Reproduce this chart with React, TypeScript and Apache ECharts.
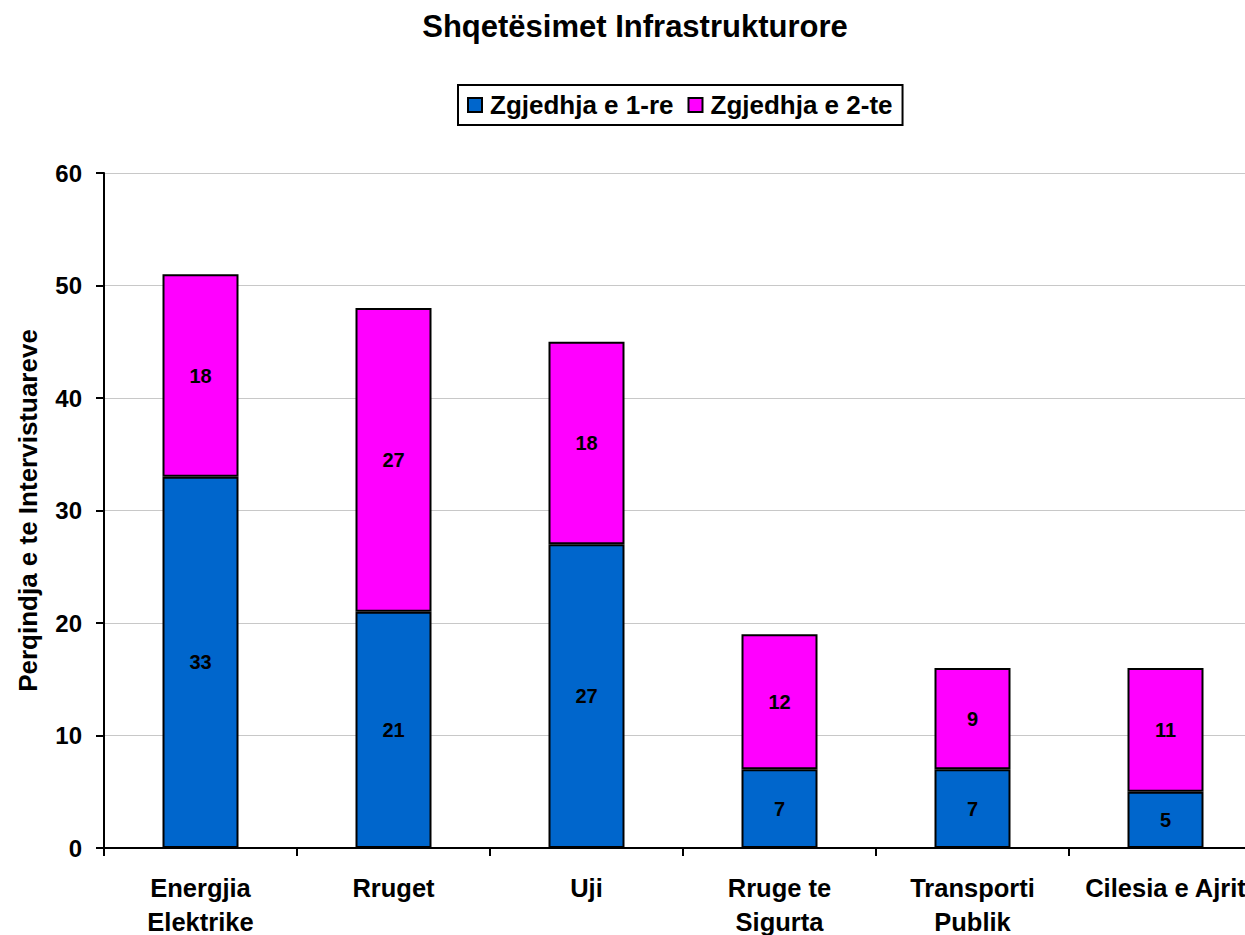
import React, { useEffect, useRef } from "react";
import * as echarts from "echarts";

const categories = ["Energjia\nElektrike", "Rruget", "Uji", "Rruge te\nSigurta", "Transporti\nPublik", "Cilesia e Ajrit"];
const firstChoice = [33, 21, 27, 7, 7, 5];
const secondChoice = [18, 27, 18, 12, 9, 11];
const seriesNames = ["Zgjedhja e 1-re", "Zgjedhja e 2-te"];
const titleText = "Shqetësimet Infrastrukturore";
const yAxisName = "Perqindja e te Intervistuareve";

const FONT = "'Liberation Sans', Arial, sans-serif";

export default function App() {
  const ref = useRef<HTMLDivElement>(null);
  useEffect(() => {
    if (!ref.current) return;
    const chart = echarts.init(ref.current, null, { renderer: "svg" });
    const label = {
      show: true,
      position: "inside",
      color: "#000",
      fontWeight: "bold",
      fontSize: 20,
      fontFamily: FONT,
    };
    chart.setOption({
      animation: false,
      backgroundColor: "#fff",
      textStyle: { fontFamily: FONT },
      title: {
        text: titleText,
        left: 630,
        textAlign: "center",
        top: 6,
        textStyle: { fontSize: 31, fontWeight: "bold", color: "#000", fontFamily: FONT },
      },
      legend: {
        top: 85,
        left: 458,
        data: seriesNames,
        icon: "rect",
        itemWidth: 14,
        itemHeight: 14,
        itemGap: 14,
        padding: [7, 10, 7, 9],
        borderColor: "#000",
        borderWidth: 2,
        textStyle: { fontSize: 26, fontWeight: "bold", color: "#000", fontFamily: FONT, padding: [0, 0, 0, 3] },
      },
      grid: { left: 104, top: 173, width: 1158, height: 675, containLabel: false, outerBoundsMode: "none" },
      xAxis: {
        type: "category",
        data: categories,
        axisLine: { lineStyle: { color: "#000", width: 2 } },
        axisTick: { show: true, length: 8, lineStyle: { color: "#000", width: 2 }, alignWithLabel: false },
        axisLabel: {
          interval: 0,
          margin: 23,
          fontSize: 25.5,
          fontWeight: "bold",
          color: "#000",
          lineHeight: 34,
          fontFamily: FONT,
        },
      },
      yAxis: {
        type: "value",
        min: 0,
        max: 60,
        interval: 10,
        name: yAxisName,
        nameLocation: "middle",
        nameGap: 63,
        nameTextStyle: { fontSize: 26, fontWeight: "bold", color: "#000", fontFamily: FONT },
        axisLine: { show: true, lineStyle: { color: "#000", width: 2 } },
        axisTick: { show: true, length: 8, lineStyle: { color: "#000", width: 2 } },
        axisLabel: { fontSize: 24, fontWeight: "bold", color: "#000", margin: 22, fontFamily: FONT },
        splitLine: { show: true, lineStyle: { color: "#c8c8c8", width: 1 } },
      },
      series: [
        {
          name: seriesNames[0],
          type: "bar",
          stack: "total",
          data: firstChoice,
          barWidth: 76,
          itemStyle: { color: "#0066CC", borderColor: "#000", borderWidth: 2 },
          label,
        },
        {
          name: seriesNames[1],
          type: "bar",
          stack: "total",
          data: secondChoice,
          barWidth: 76,
          itemStyle: { color: "#FF00FF", borderColor: "#000", borderWidth: 2 },
          label,
        },
      ],
    });
    return () => chart.dispose();
  }, []);
  return (
    <div
      ref={ref}
      style={{ position: "fixed", left: 0, top: 0, width: 1245, height: 935 }}
    />
  );
}
